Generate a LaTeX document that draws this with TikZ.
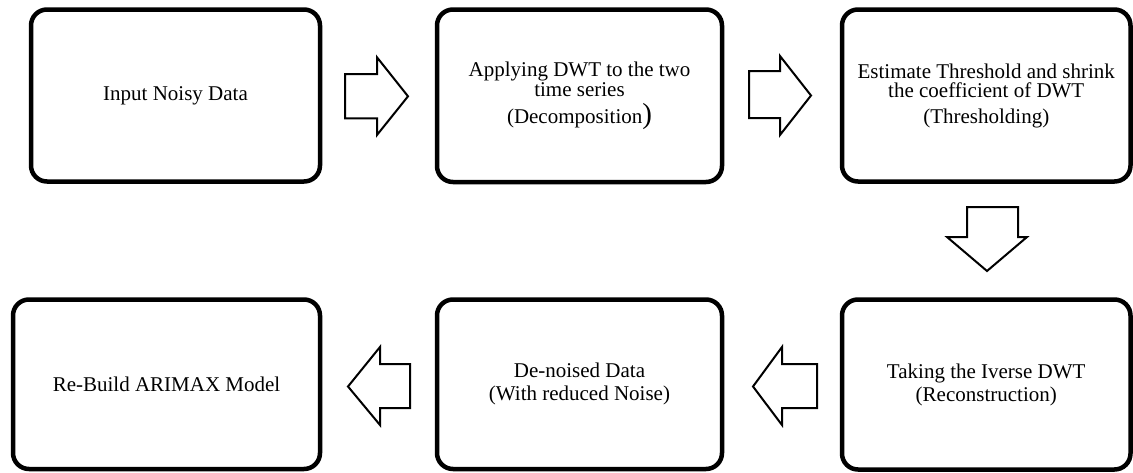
\documentclass[tikz,border=0pt]{standalone}
\usepackage{fontspec}
\setmainfont{Liberation Serif}
\begin{document}
\begin{tikzpicture}[x=1pt,y=-1pt,
  stagebox/.style={draw=black, line width=4.5pt, rounded corners=16pt, fill=white,
    align=center, inner sep=0pt, font=\fontsize{21}{19.5}\selectfont},
  blockarr/.style={draw=black, line width=2pt, fill=white, line join=miter}]
\useasboundingbox (0,0) rectangle (1133,472);
% top row
\node[stagebox, minimum width=289pt, minimum height=172pt] (b1) at (175.5,95.5) {Input Noisy Data};
\node[stagebox, minimum width=285pt, minimum height=172.5pt] (b2) at (579.5,95.75)
  {Applying DWT to the two\\time series\\[5.5pt](Decomposition{\fontsize{29}{29}\selectfont)}};
\node[stagebox, minimum width=288.5pt, minimum height=172pt] (b3) at (986.25,95.5)
  {Estimate Threshold and shrink\\the coefficient of DWT\\[6pt](Thresholding)};
% bottom row
\node[stagebox, minimum width=307pt, minimum height=169.5pt] (b4) at (166.5,384.25) {Re-Build ARIMAX Model};
\node[stagebox, minimum width=285pt, minimum height=169.5pt] (b5) at (579.5,384.25)
  {De-noised Data\\[3.5pt](With reduced Noise)};
\node[stagebox, minimum width=288.5pt, minimum height=170pt] (b6) at (986.25,384.5)
  {Taking the Iverse DWT\\[3.5pt](Reconstruction)};
% block arrows
\draw[blockarr] (345,74) -- (377,74) -- (377,57.3) -- (408,96.3) -- (377,135) -- (377,118.3) -- (345,118.3) -- cycle;
\draw[blockarr] (749,71) -- (780,71) -- (780,56) -- (811,95.5) -- (780,135) -- (780,118) -- (749,118) -- cycle;
\draw[blockarr] (967,207) -- (967,237) -- (947,237) -- (987,271) -- (1027,237) -- (1018,237) -- (1018,207) -- cycle;
\draw[blockarr] (817,364) -- (782,364) -- (782,347) -- (753,386.5) -- (782,425) -- (782,408) -- (817,408) -- cycle;
\draw[blockarr] (410,364) -- (380,364) -- (380,347) -- (348,386.5) -- (380,425) -- (380,408) -- (410,408) -- cycle;
\end{tikzpicture}
\end{document}
